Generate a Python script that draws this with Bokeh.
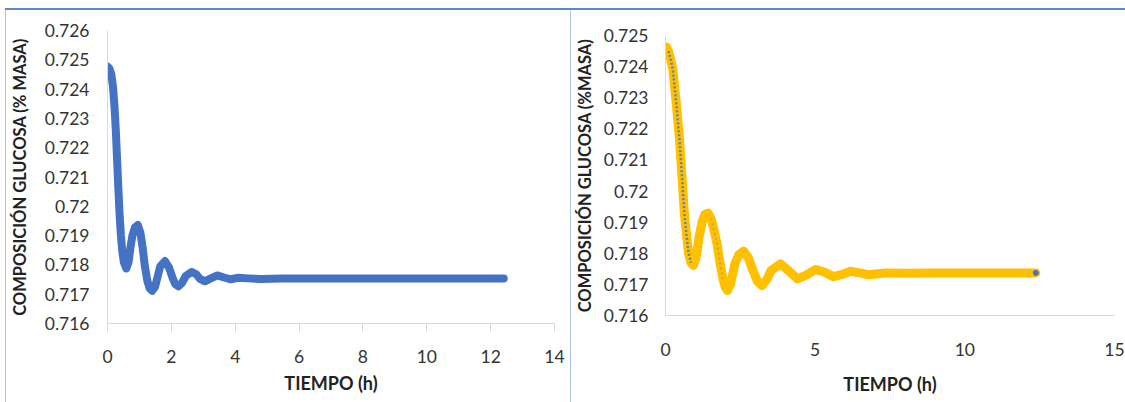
from bokeh.plotting import figure
from bokeh.layouts import row, column
from bokeh.models import Div, Spacer, FixedTicker, CustomJSTickFormatter, Range1d
from bokeh.embed import file_html
from bokeh.resources import INLINE

# ---------------- data ----------------
left_t = [0.00, 0.06, 0.12, 0.17, 0.22, 0.26, 0.30, 0.34, 0.38, 0.42, 0.46, 0.51,
          0.59, 0.66, 0.72, 0.78, 0.86, 0.95, 1.03, 1.10, 1.17, 1.25, 1.32, 1.40,
          1.49, 1.57, 1.65, 1.80, 1.93, 2.03, 2.12, 2.22, 2.33, 2.45, 2.63, 2.78,
          2.90, 3.05, 3.20, 3.44, 3.65, 3.86, 4.10, 4.40, 4.80, 5.50, 7.00, 9.00,
          11.00, 12.41]
left_v = [0.72477, 0.72470, 0.72450, 0.72410, 0.72340, 0.72260, 0.72160, 0.72060,
          0.71970, 0.71900, 0.71850, 0.71810, 0.71788, 0.71810, 0.71860, 0.71900,
          0.71928, 0.71936, 0.71910, 0.71860, 0.71795, 0.71745, 0.71720, 0.71712,
          0.71725, 0.71760, 0.71795, 0.71813, 0.71790, 0.71758, 0.71735, 0.71727,
          0.71738, 0.71762, 0.71776, 0.71768, 0.71752, 0.71744, 0.71752, 0.71764,
          0.71757, 0.71751, 0.71756, 0.71754, 0.71752, 0.71754, 0.71754, 0.71754,
          0.71754, 0.71754]

right_t = [0.03, 0.10, 0.18, 0.25, 0.36, 0.47, 0.56, 0.63, 0.70, 0.77, 0.85, 0.93,
           1.02, 1.12, 1.22, 1.32, 1.42, 1.52, 1.62, 1.72, 1.82, 1.92, 2.00, 2.07,
           2.17, 2.32, 2.45, 2.61, 2.77, 2.92, 3.07, 3.22, 3.38, 3.53, 3.84, 4.12,
           4.41, 4.70, 5.02, 5.30, 5.61, 5.90, 6.19, 6.49, 6.79, 7.10, 7.39, 8.00,
           9.00, 10.00, 11.00, 12.37]
right_v = [0.72463, 0.72450, 0.72420, 0.72388, 0.72281, 0.72163, 0.72034, 0.71927,
           0.71860, 0.71800, 0.71770, 0.71761, 0.71785, 0.71852, 0.71900, 0.71925,
           0.71929, 0.71912, 0.71875, 0.71831, 0.71770, 0.71718, 0.71690, 0.71680,
           0.71700, 0.71767, 0.71795, 0.71807, 0.71785, 0.71745, 0.71710, 0.71696,
           0.71715, 0.71745, 0.71766, 0.71743, 0.71718, 0.71730, 0.71748, 0.71740,
           0.71725, 0.71732, 0.71742, 0.71737, 0.71731, 0.71734, 0.71737, 0.71736,
           0.71737, 0.71737, 0.71737, 0.71737]

# blue markers visible on the steep parts of the right-hand curve
blue1_t = [0.10, 0.18, 0.25, 0.36, 0.47, 0.56, 0.63, 0.70, 0.77, 0.85]
blue1_v = [0.72450, 0.72420, 0.72388, 0.72281, 0.72163, 0.72034, 0.71927, 0.71860,
           0.71800, 0.71770]
blue2_t = [1.52, 1.62, 1.72, 1.82, 1.92]
blue2_v = [0.71912, 0.71875, 0.71831, 0.71770, 0.71718]
blue_end_t = [12.37]
blue_end_v = [0.71737]

left_xticks = [0, 2, 4, 6, 8, 10, 12, 14]
left_yticks = [0.716, 0.717, 0.718, 0.719, 0.720, 0.721, 0.722, 0.723, 0.724, 0.725, 0.726]
right_xticks = [0, 5, 10, 15]
right_yticks = [0.716, 0.717, 0.718, 0.719, 0.720, 0.721, 0.722, 0.723, 0.724, 0.725]

left_ytitle = "COMPOSICIÓN GLUCOSA (% MASA)"
right_ytitle = "COMPOSICIÓN GLUCOSA (%MASA)"
xtitle = "TIEMPO (h)"

FONT = "Lato"
TICK_COLOR = "#333333"
TITLE_COLOR = "#222222"
AXIS_GRAY = "#D9D9D9"

fmt = CustomJSTickFormatter(code="return String(Number(tick.toFixed(4)));")


def style(p, xticks, yticks, xtick_out, x_standoff, xtitle_standoff, y_standoff, ytitle_standoff, ytitle_size):
    p.xgrid.visible = False
    p.ygrid.visible = False
    p.outline_line_color = None
    p.xaxis.ticker = FixedTicker(ticks=xticks)
    p.yaxis.ticker = FixedTicker(ticks=yticks)
    p.yaxis.formatter = fmt
    for ax in (p.xaxis, p.yaxis):
        ax.axis_line_color = AXIS_GRAY
        ax.axis_line_width = 1
        ax.minor_tick_line_color = None
        ax.major_label_text_font = FONT
        ax.major_label_text_font_size = "17.5px"
        ax.major_label_text_color = TICK_COLOR
        ax.axis_label_text_font = FONT
        ax.axis_label_text_font_style = "bold"
        ax.axis_label_text_color = TITLE_COLOR
    p.yaxis.major_tick_line_color = None
    p.yaxis.major_tick_in = 0
    p.yaxis.major_tick_out = 0
    p.yaxis.major_label_standoff = y_standoff
    p.yaxis.axis_label_standoff = ytitle_standoff
    p.yaxis.axis_label_text_font_size = ytitle_size
    if xtick_out > 0:
        p.xaxis.major_tick_line_color = AXIS_GRAY
        p.xaxis.major_tick_in = 0
        p.xaxis.major_tick_out = xtick_out
    else:
        p.xaxis.major_tick_line_color = None
        p.xaxis.major_tick_in = 0
        p.xaxis.major_tick_out = 0
    p.xaxis.major_label_standoff = x_standoff
    p.xaxis.axis_label_standoff = xtitle_standoff
    p.xaxis.axis_label_text_font_size = "18px"


# ---------------- left chart ----------------
pl = figure(width=564, height=392, output_backend="svg", toolbar_location=None, title=None,
            x_range=Range1d(0, 14), y_range=Range1d(0.716, 0.726),
            min_border_left=100, min_border_right=16, min_border_top=20, min_border_bottom=79,
            x_axis_label=xtitle, y_axis_label=left_ytitle)
pl.line(left_t, left_v, line_color="#4472C4", line_width=8, line_cap="round", line_join="round")
style(pl, left_xticks, left_yticks, 8, 18, 6, 18, 12, "16.5px")

# ---------------- right chart ----------------
pr = figure(width=554, height=392, output_backend="svg", toolbar_location=None, title=None,
            x_range=Range1d(0, 15), y_range=Range1d(0.716, 0.725),
            min_border_left=88, min_border_right=11, min_border_top=25, min_border_bottom=87,
            x_axis_label=xtitle, y_axis_label=right_ytitle)
pr.line(right_t, right_v, line_color="#FFC000", line_width=9, line_cap="round", line_join="round")
pr.line(blue1_t, blue1_v, line_color="#4472C4", line_width=2.5, line_dash="2 2", line_alpha=0.8)
pr.line(blue2_t, blue2_v, line_color="#4472C4", line_width=2, line_dash="2 3", line_alpha=0.35)
pr.scatter(blue_end_t, blue_end_v, size=5, color="#4472C4")
style(pr, right_xticks, right_yticks, 0, 27, 14, 17, 6, "16.5px")

# ---------------- frame lines (page borders) ----------------
top_left = Div(width=565, height=2, margin=0, styles={"background-color": "#5B86D0"})
top_right = Div(width=555, height=2, margin=0, styles={"background-color": "#5B86D0"})
vline0 = Div(width=1, height=392, margin=0, styles={"background-color": "#AFC6EC"})
vline1 = Div(width=1, height=392, margin=0, styles={"background-color": "#AFC6EC"})

# each chart sits in its own column so that the two plot frames are laid out independently
left_box = column(pl, margin=0)
right_box = column(pr, margin=0)

root = column(
    Spacer(width=1125, height=8, margin=0),
    row(Spacer(width=5, height=2, margin=0), top_left, top_right, margin=0),
    row(Spacer(width=5, height=392, margin=0), vline0, left_box, vline1, right_box, margin=0),
    margin=0,
)

open("out.html", "w").write(file_html(root, INLINE))
